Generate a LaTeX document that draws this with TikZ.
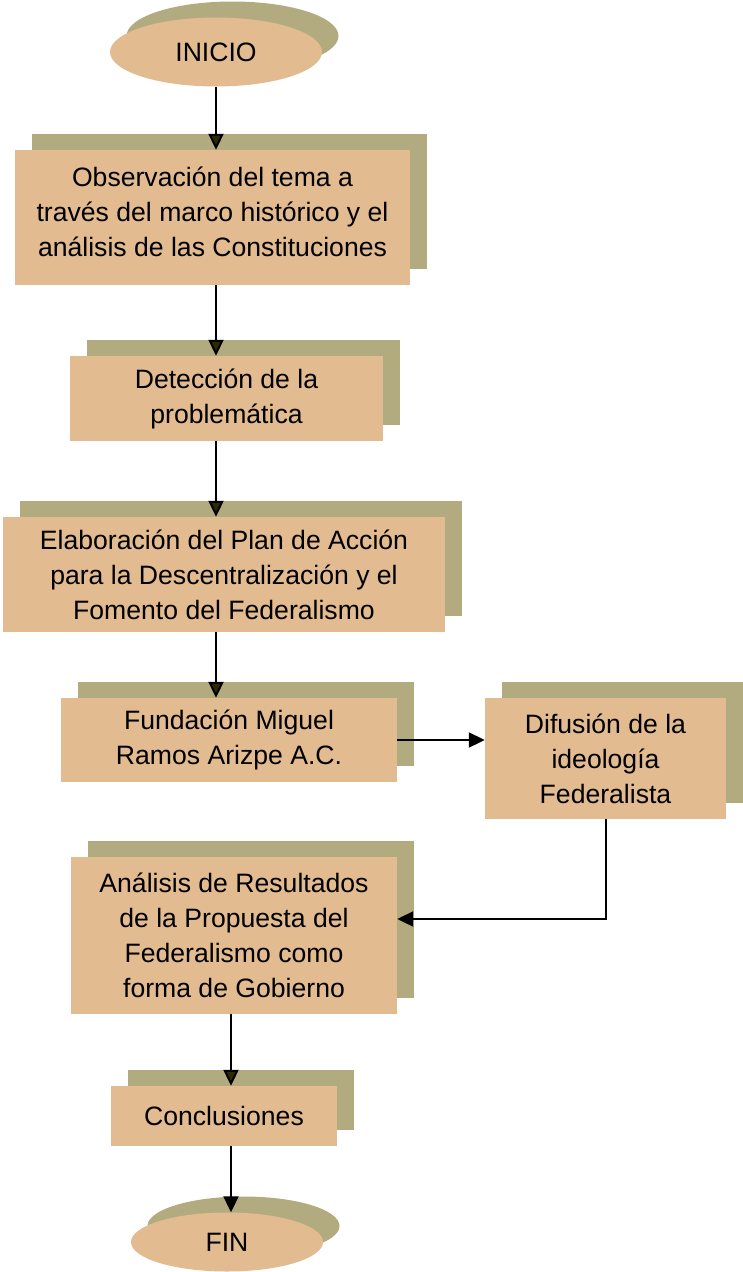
\documentclass[tikz,border=0pt]{standalone}
\usepackage{fontspec}
\setmainfont{Liberation Sans}
\usetikzlibrary{shapes.geometric,shadows,arrows.meta}
\definecolor{boxfill}{HTML}{E3BB90}
\definecolor{shadowc}{HTML}{B3AB80}
\definecolor{tipc}{HTML}{2E2A00}
\begin{document}
\begin{tikzpicture}[x=1pt,y=-1pt,
  txt/.style={inner sep=0pt,align=center,font=\fontsize{26.6}{35}\selectfont},
  base/.style={txt,fill=boxfill,draw=none,
    copy shadow={shadow xshift=16.5pt,shadow yshift=16pt,fill=shadowc,draw=none}},
  procbox/.style={base,rectangle},
  termbox/.style={base,ellipse},
  arr/.style={line width=2pt,-{Triangle[length=16pt,width=15pt]}},
  arrd/.style={arr,-{Triangle[length=16pt,width=15pt,fill=tipc]}}
]
\useasboundingbox (0,0) rectangle (742,1272);
\node[termbox,minimum width=212pt,minimum height=69pt] (inicio) at (216,52) {INICIO};
\node[procbox,minimum width=395pt,minimum height=135pt,
  label={[txt,yshift=6pt]center:{Observación del tema a\\través del marco histórico y el\\análisis de las Constituciones}}]
  (obs) at (212.5,217.5) {};
\node[procbox,minimum width=313pt,minimum height=85pt] (det) at (226.5,398.5)
  {Detección de la\\problemática};
\node[procbox,minimum width=442pt,minimum height=115pt] (elab) at (224,574.5)
  {Elaboración del Plan de Acción\\para la Descentralización y el\\Fomento del Federalismo};
\node[procbox,minimum width=336pt,minimum height=84pt] (fund) at (229,740)
  {Fundación Miguel\\Ramos Arizpe A.C.};
\node[procbox,minimum width=241pt,minimum height=121pt] (dif) at (605.5,758.5)
  {Difusión de la\\ideología\\Federalista};
\node[procbox,minimum width=326pt,minimum height=157pt] (anal) at (234,935.5)
  {Análisis de Resultados\\de la Propuesta del\\Federalismo como\\forma de Gobierno};
\node[procbox,minimum width=226pt,minimum height=60pt] (concl) at (224,1116)
  {Conclusiones};
\node[termbox,minimum width=192pt,minimum height=59pt] (fin) at (227,1242) {FIN};
\coordinate (c1) at (216,0);
\draw[arrd] (inicio.south) -- (inicio.south |- obs.north);
\draw[arrd] (c1 |- obs.south) -- (c1 |- det.north);
\draw[arrd] (c1 |- det.south) -- (c1 |- elab.north);
\draw[arrd] (c1 |- elab.south) -- (c1 |- fund.north);
\draw[arr] (fund.east) -- (fund.east -| dif.west);
\draw[arr] (dif.south) |- ([yshift=16.5pt]anal.east);
\coordinate (c2) at (231,0);
\draw[arrd] (c2 |- anal.south) -- (c2 |- concl.north);
\draw[arr] (c2 |- concl.south) -- (c2 |- fin.north);
\end{tikzpicture}
\end{document}
